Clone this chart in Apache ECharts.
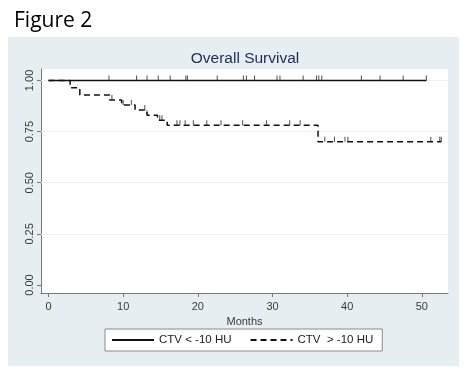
<!DOCTYPE html>
<html>
<head>
<meta charset="utf-8">
<script src="https://cdn.jsdelivr.net/npm/echarts@6/dist/echarts.min.js"></script>
<style>
html,body{margin:0;padding:0;background:#fff;}
#c{width:467px;height:372px;}
</style>
</head>
<body>
<div id="c"></div>
<script>
// ---- data ----
var xTicks = [0, 10, 20, 30, 40, 50];
var yTicks = [0, 0.25, 0.5, 0.75, 1.0];
var yGridLines = [0.25, 0.5, 0.75, 1.0];

// Kaplan-Meier step points [month, survival] for CTV < -10 HU
var lowTimes = [0, 50.6];
var lowSurv = [1.0, 1.0];
var lowCensor = [8.1, 11.8, 13.2, 14.7, 16.3, 18.4, 18.6, 22.6, 26.1, 26.5, 27.6, 30.6, 31.0, 34.1, 35.9, 36.2, 36.6, 41.9, 44.4, 47.5, 50.6];

// Kaplan-Meier step points for CTV > -10 HU
var highTimes = [0, 2.9, 4.2, 8.2, 9.8, 11.6, 13.2, 14.6, 15.9, 36.1, 52.6];
var highSurv = [1.0, 0.964, 0.929, 0.905, 0.880, 0.855, 0.830, 0.806, 0.781, 0.700, 0.700];
var highCensor = [8.5, 10.0, 11.1, 12.9, 13.2, 14.9, 15.2, 17.2, 17.6, 18.3, 19.4, 21.2, 23.1, 26.0, 29.2, 32.3, 33.7, 37.0, 38.3, 39.7, 40.1, 51.2, 52.4, 52.6];

var seriesNames = ['CTV < -10 HU', 'CTV  > -10 HU'];

// ---- build ----
function pairs(t, s) { return t.map(function (v, i) { return [v, s[i]]; }); }
function survAt(t, s, x) {
  var v = s[0];
  for (var i = 0; i < t.length; i++) { if (t[i] <= x) v = s[i]; }
  return v;
}
function censorPts(ct, t, s) { return ct.map(function (x) { return [x, survAt(t, s, x)]; }); }

var chart = echarts.init(document.getElementById('c'), null, {renderer: 'canvas'});
var axisCol = '#7a7a7a';
var txtCol = '#3a3a3a';
var censorStyle = {
  type: 'scatter',
  symbol: 'rect',
  symbolSize: [1, 5],
  symbolOffset: [0, -2.5],
  itemStyle: {color: '#222'},
  silent: true,
  z: 4
};

chart.setOption({
  animation: false,
  backgroundColor: '#ffffff',
  graphic: [
    {type: 'rect', shape: {x: 8, y: 37, width: 451, height: 329}, style: {fill: '#e7eef1'}, z: -10, silent: true},
    {type: 'text', x: 14, y: 21, style: {text: 'Figure 2', font: '21px "Open Sans", sans-serif', fill: '#000', textVerticalAlign: 'middle'}},
    {type: 'text', x: 245, y: 59, style: {text: 'Overall Survival', font: '15.5px "Liberation Sans", Arial, sans-serif', fill: '#1c2b5a', textAlign: 'center', textVerticalAlign: 'middle'}}
  ],
  grid: {left: 41, right: 19, top: 69, bottom: 79, show: true, backgroundColor: '#ffffff', borderWidth: 0},
  legend: {
    data: seriesNames,
    left: 105, top: 329,
    padding: [5, 9, 5, 6],
    itemGap: 18,
    itemWidth: 42, itemHeight: 10,
    itemStyle: {opacity: 0, borderWidth: 0},
    backgroundColor: '#ffffff',
    borderColor: '#8a8a8a', borderWidth: 1, borderRadius: 0,
    textStyle: {fontFamily: '"Liberation Sans", Arial, sans-serif', fontSize: 11.5, color: '#222'}
  },
  xAxis: {
    type: 'value', min: -1, max: 53.5,
    name: 'Months', nameLocation: 'middle', nameGap: 18,
    nameTextStyle: {fontFamily: '"Liberation Sans", Arial, sans-serif', fontSize: 11, color: txtCol},
    axisLine: {show: true, onZero: false, lineStyle: {color: axisCol, width: 1}},
    axisTick: {show: true, length: 4, customValues: xTicks, lineStyle: {color: axisCol}},
    axisLabel: {customValues: xTicks, margin: 8, fontFamily: '"Liberation Sans", Arial, sans-serif', fontSize: 11, color: txtCol},
    splitLine: {show: false}
  },
  yAxis: {
    type: 'value', min: -0.039, max: 1.056,
    axisLine: {show: true, onZero: false, lineStyle: {color: axisCol, width: 1}},
    axisTick: {show: true, length: 4, customValues: yTicks, lineStyle: {color: axisCol}},
    axisLabel: {customValues: yTicks, rotate: 90, margin: 6, fontFamily: '"Liberation Sans", Arial, sans-serif', fontSize: 11, color: txtCol,
      formatter: function (v) { return v.toFixed(2); }},
    splitLine: {show: false}
  },
  series: [
    {
      name: seriesNames[0], type: 'line', step: 'end', data: pairs(lowTimes, lowSurv),
      symbol: 'none', showSymbol: false,
      lineStyle: {color: '#111', width: 1.5, type: 'solid'},
      itemStyle: {color: '#111'}, z: 3,
      markLine: {
        silent: true, symbol: ['none', 'none'], label: {show: false},
        lineStyle: {color: '#edf1f3', width: 1, type: 'solid'},
        data: yGridLines.map(function (v) { return {yAxis: v}; }), z: 1
      }
    },
    {
      name: seriesNames[1], type: 'line', step: 'end', data: pairs(highTimes, highSurv),
      symbol: 'none', showSymbol: false,
      lineStyle: {color: '#111', width: 1.5, type: [6, 4]},
      itemStyle: {color: '#111'}, z: 3
    },
    Object.assign({name: 'c1', data: censorPts(lowCensor, lowTimes, lowSurv)}, censorStyle),
    Object.assign({name: 'c2', data: censorPts(highCensor, highTimes, highSurv)}, censorStyle)
  ]
});
</script>
</body>
</html>
